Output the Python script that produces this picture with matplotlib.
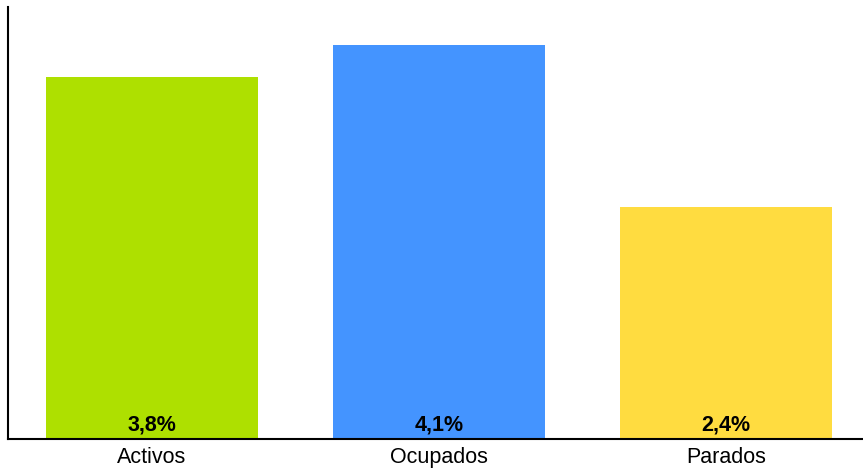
import matplotlib
matplotlib.use("Agg")
import matplotlib.pyplot as plt

categories = ["Activos", "Ocupados", "Parados"]
values = [3.77, 4.1, 2.42]
labels = ["3,8%", "4,1%", "2,4%"]
colors = ["#AEE000", "#4494FF", "#FFDC40"]

plt.rcParams["font.family"] = ["Liberation Sans", "DejaVu Sans"]

fig = plt.figure(figsize=(8.63, 4.68), dpi=100)
ax = fig.add_axes([8 / 863, 29 / 468, 854 / 863, 432 / 468])

x = range(len(categories))
ax.bar(x, values, width=0.739, color=colors)

for xi, lab in zip(x, labels):
    ax.annotate(lab, xy=(xi, 0), xytext=(0, 5.8), textcoords="offset points",
                ha="center", va="baseline", fontsize=15.5, fontweight="bold",
                color="black")

ax.set_xlim(-0.502, 2.474)
ax.set_ylim(0, 4.5)
ax.set_xticks(list(x))
ax.set_xticklabels(categories, fontsize=15.5)
ax.tick_params(axis="x", length=0, pad=5.5)
ax.set_yticks([])
for side in ["top", "right"]:
    ax.spines[side].set_visible(False)
for side in ["left", "bottom"]:
    ax.spines[side].set_linewidth(1.5)
    ax.spines[side].set_color("black")

fig.savefig("out.png", dpi=100)
